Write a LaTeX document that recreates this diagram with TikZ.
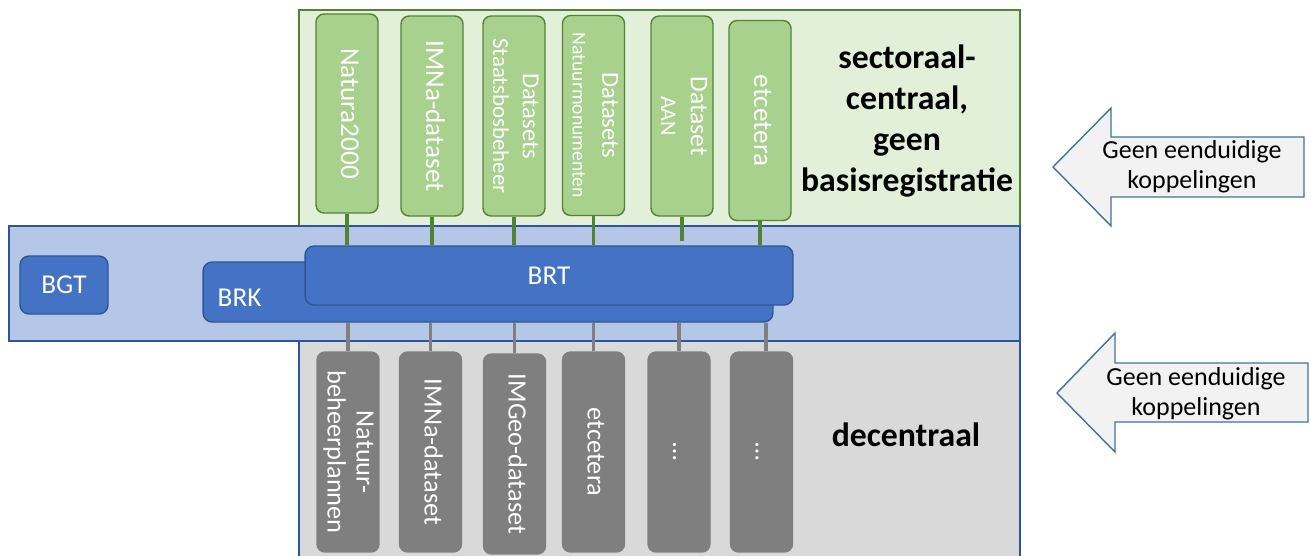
\documentclass[tikz,border=0pt]{standalone}
\usepackage{fontspec}
\setmainfont{Carlito}
\usetikzlibrary{positioning}
\definecolor{grnfill}{HTML}{E2F0D9}
\definecolor{grnline}{HTML}{548235}
\definecolor{grnbox}{HTML}{A9D18E}
\definecolor{bandfill}{HTML}{B4C7E7}
\definecolor{bandline}{HTML}{2F5597}
\definecolor{regblue}{HTML}{4472C4}
\definecolor{grayfill}{HTML}{D9D9D9}
\definecolor{graybox}{HTML}{7F7F7F}
\definecolor{signfill}{HTML}{F2F2F2}
\definecolor{signline}{HTML}{41719C}
\newcommand{\vlabel}[1]{\rotatebox{-90}{\begin{tabular}{@{}c@{}}#1\end{tabular}}}
\newcommand{\fs}[2]{\fontsize{#1}{#2}\selectfont}

\begin{document}
\begin{tikzpicture}[x=0.02cm,y=-0.02cm,
   greenset/.style={draw=grnline,line width=0.8pt,rounded corners=0.16cm,fill=grnbox,
     minimum width=1.24cm,minimum height=4cm,inner sep=0pt,text=white,font=\fs{15.5}{17}},
   grayset/.style={greenset,draw=graybox,fill=graybox,font=\fs{15}{16.5}},
   regbox/.style={draw=bandline,line width=0.8pt,rounded corners=0.18cm,fill=regblue,
     inner sep=0pt,text=white,font=\fs{15.5}{18}},
   greenlink/.style={grnline,line width=1.8pt},
   graylink/.style={graybox,line width=1.8pt},
   sign/.style={draw=signline,line width=0.8pt,fill=signfill},
   signtext/.style={align=center,font=\fs{14.8}{17.2}},
   zonetext/.style={align=center,font=\bfseries\fs{19.2}{23.2}}]
\useasboundingbox (0,0) rectangle (1311,555);

% zones
\path[fill=grnfill,draw=grnline,line width=0.8pt] (299,10) rectangle (1020,226);
\path[fill=grayfill,draw=bandline,line width=0.8pt] (299,341) rectangle (1020,560);
\path[fill=bandfill,draw=bandline,line width=0.8pt] (9,226) rectangle (1020,341);

% sectoraal-centraal
\node[greenset,minimum height=3.98cm] (natura) at (347,113.5) {\vlabel{Natura2000}};
\node[greenset] (imna) at (432,116) {\vlabel{IMNa-dataset}};
\node[greenset] (sbb) at (514,116) {\vlabel{{\fs{14}{16}Datasets}\\{\fs{13}{15}Staatsbosbeheer}}};
\node[greenset] (nm) at (593.5,115.5) {\vlabel{{\fs{14}{16}Datasets}\\{\fs{11.2}{13}Natuurmonumenten}}};
\node[greenset] (aan) at (682,116) {\vlabel{{\fs{14.5}{16}Dataset}\\{\fs{12.6}{14}AAN}}};
\node[greenset] (etc) at (760,120.5) {\vlabel{etcetera}};

% decentraal
\node[grayset] (plan) at (348,452) {\vlabel{Natuur-\\beheerplannen}};
\node[grayset] (imnaloc) at (430.5,452) {\vlabel{IMNa-dataset}};
\node[grayset] (imgeo) at (514.5,454) {\vlabel{IMGeo-dataset}};
\node[grayset] (etcloc) at (593.5,452) {\vlabel{etcetera}};
\node[grayset] (moreA) at (679,452) {\vlabel{…}};
\node[grayset] (moreB) at (761.5,452) {\vlabel{…}};

% basisregistraties
\node[regbox,minimum width=1.76cm,minimum height=1.16cm] (bgt) at (64,285) {BGT};
\node[regbox,minimum width=11.4cm,minimum height=1.2cm] (brk) at (488,292) {};
\node[text=white,font=\fs{15.5}{18},inner sep=0pt,right=0.3cm of brk.west,yshift=-0.12cm] (brklabel) {BRK};
\node[regbox,minimum width=9.76cm,minimum height=1.18cm] (brt) at (549,275.5) {BRT};

\coordinate (aanend) at (682,241);
\foreach \n in {natura,imna,sbb,nm,etc}
  \draw[greenlink] (\n.south) -- (\n.south |- brt.north);
\draw[greenlink] (aan.south) -- (aanend);
\foreach \n in {plan,imnaloc,imgeo,etcloc,moreA}
  \draw[graylink] (\n.north) -- (\n.north |- brk.south);
\draw[graylink] ([xshift=0.09cm]moreB.north) -- ([xshift=0.09cm]moreB.north |- brk.south);

\node[zonetext] (sector) at (907,121) {sectoraal-\\centraal,\\geen\\basisregistratie};
\node[zonetext] (decentral) at (906,435) {decentraal};

% pijlen
\draw[sign] (1053,167) -- (1111,108) -- (1111,137) -- (1304,137) -- (1304,197) -- (1111,197) -- (1111,226) -- cycle;
\node[signtext] (upper) at (1192,167) {Geen eenduidige\\koppelingen};
\draw[sign] (1057,393) -- (1115,333) -- (1115,363) -- (1308,363) -- (1308,422) -- (1115,422) -- (1115,452) -- cycle;
\node[signtext] (lower) at (1196,394) {Geen eenduidige\\koppelingen};
\end{tikzpicture}
\end{document}
